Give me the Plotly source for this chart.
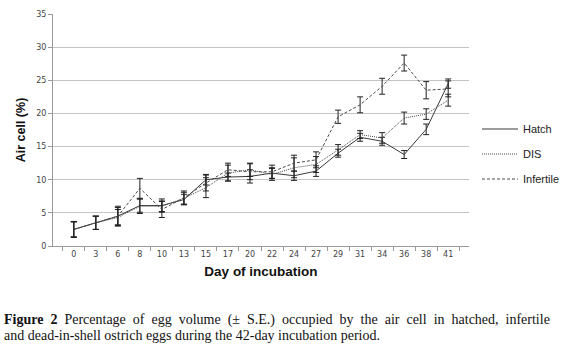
import plotly.graph_objects as go

days = ["0", "3", "6", "8", "10", "13", "15", "17", "20", "22", "24", "27", "29", "31", "34", "36", "38", "41"]

hatch = [2.5, 3.5, 4.5, 6.1, 6.1, 7.0, 10.0, 10.4, 10.5, 11.0, 10.6, 11.3, 14.0, 16.4, 15.8, 13.8, 17.6, 24.5]
hatch_se = [1.2, 1.0, 1.5, 1.0, 1.0, 0.8, 0.8, 0.6, 1.0, 0.8, 0.7, 0.8, 0.6, 0.6, 0.6, 0.6, 0.8, 0.7]

dis = [2.5, 3.5, 4.3, 6.0, 6.0, 7.2, 8.8, 11.0, 11.5, 10.8, 11.8, 12.3, 14.5, 16.8, 16.3, 19.3, 19.9, 22.0]
dis_se = [1.1, 1.0, 1.2, 1.1, 0.8, 0.9, 1.5, 1.2, 1.0, 0.9, 1.5, 1.2, 0.8, 0.6, 0.8, 0.9, 0.8, 0.9]

infertile = [2.5, 3.5, 4.5, 8.7, 5.5, 7.3, 9.5, 11.5, 11.2, 11.2, 12.5, 13.0, 19.5, 21.3, 24.1, 27.6, 23.5, 23.7]
infertile_se = [1.2, 1.0, 1.3, 1.5, 1.2, 1.0, 1.2, 1.0, 1.2, 1.0, 1.2, 1.2, 1.0, 1.2, 1.2, 1.2, 1.3, 1.2]

series = [
    ("Hatch", hatch, hatch_se, "solid", "#3a3a3a"),
    ("DIS", dis, dis_se, "1px,1px", "#4a4a4a"),
    ("Infertile", infertile, infertile_se, "3px,2px", "#4a4a4a"),
]

W, H = 564, 351
X0, X1 = 53, 469   # plot area left/right (px)
Y0, Y1 = 14, 246   # plot area top/bottom (px)

fig = go.Figure()
for name, vals, se, dash, col in series:
    fig.add_trace(go.Scatter(
        x=days, y=vals, name=name, mode="lines",
        legendgroup=name,
        line=dict(color=col, width=1, dash=dash),
        error_y=dict(type="data", array=se, visible=True, color="#222222", thickness=1, width=3),
    ))

fig.update_layout(
    width=W, height=H,
    margin=dict(l=0, r=0, t=0, b=0, autoexpand=False),
    paper_bgcolor="white", plot_bgcolor="white",
    font=dict(family="DejaVu Sans", color="#333333"),
    showlegend=True,
    legend=dict(
        x=477 / W, y=1 - 114.5 / H, xanchor="left", yanchor="top",
        font=dict(family="Liberation Sans", size=11, color="#222222"),
        traceorder="grouped", tracegroupgap=6, itemwidth=36,
        bgcolor="rgba(0,0,0,0)",
    ),
    xaxis=dict(
        domain=[X0 / W, X1 / W], automargin=False,
        type="category", showgrid=False, showline=True, linecolor="#999999", linewidth=1,
        ticks="outside", tickson="boundaries", ticklen=4, tickcolor="#999999",
        tickfont=dict(size=8, color="#444444", family="DejaVu Sans"),
        title=dict(text="<b>Day of incubation</b>", font=dict(family="Liberation Sans", size=13.5, color="#111111"), standoff=8),
        zeroline=False,
    ),
    yaxis=dict(
        domain=[1 - Y1 / H, 1 - Y0 / H], automargin=False,
        range=[0, 35], dtick=5, showgrid=True, gridcolor="#c4c4c4", gridwidth=1,
        showline=True, linecolor="#999999", linewidth=1,
        ticks="outside", ticklen=4, tickcolor="#999999",
        tickfont=dict(size=8, color="#444444", family="DejaVu Sans"),
        title=dict(text="<b>Air cell (%)</b>", font=dict(family="Liberation Sans", size=12.5, color="#111111"), standoff=7),
        zeroline=False,
    ),
)

nb = " \u00a0"
line1 = "<b>Figure" + nb + "2</b>" + nb + nb.join(
    "Percentage of egg volume (± S.E.) occupied by the air cell in hatched, infertile".split(" "))
line2 = "and dead-in-shell ostrich eggs during the 42-day incubation period."

fig.add_annotation(
    xref="paper", yref="paper", x=3 / W, y=1 - 320 / H, xanchor="left", yanchor="middle",
    align="left", showarrow=False, text=line1, borderpad=0,
    font=dict(family="Liberation Serif", size=14, color="#111111"),
)
fig.add_annotation(
    xref="paper", yref="paper", x=3 / W, y=1 - 335 / H, xanchor="left", yanchor="middle",
    align="left", showarrow=False, text=line2, borderpad=0,
    font=dict(family="Liberation Serif", size=14, color="#111111"),
)

fig.write_html(
    "out.html",
    config={"displayModeBar": False, "staticPlot": True},
    post_script="document.body.style.margin='0px';",
)
